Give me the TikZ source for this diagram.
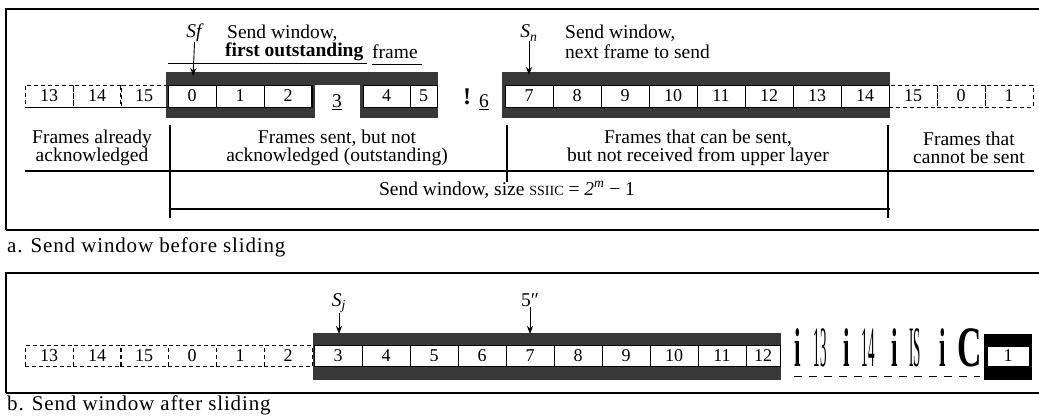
\documentclass[tikz,border=0pt]{standalone}
\usepackage{fontspec}
\setmainfont{Liberation Serif}
\usepackage{tikz}
\usetikzlibrary{arrows.meta}
\tikzset{
  frm/.style={draw,line width=0.8pt,fill=white,minimum width=48pt,minimum height=22pt,inner sep=0pt,font=\fontsize{18}{18}\selectfont},
  frmd/.style={frm,fill=none,dash pattern=on 4pt off 3pt},
  band/.style={fill=black!78},
  ptr/.style={line width=0.9pt,-{Stealth[length=8pt,width=6pt]}},
  rule/.style={line width=1.1pt},
  lbl/.style={font=\fontsize{19.5}{18}\selectfont,align=center,inner sep=0pt},
  capline/.style={font=\fontsize{21}{21}\selectfont\addfontfeature{LetterSpace=4},inner sep=0pt,anchor=west},
  ocr/.style={font=\fontsize{26}{26}\selectfont,inner sep=0pt}
}

\begin{document}
\begin{tikzpicture}[x=1pt,y=-1pt]
\useasboundingbox (0,0) rectangle (1039,417);
% a. before sliding
\draw[rule] (6,230) -- (6,9) -- (1039,9); \draw[rule] (6,230) -- (1039,230);
\fill[band] (166,72) rectangle (438,85); \fill[band] (166,85) rectangle (315,118);
\fill[band] (360,85) rectangle (438,118); \fill[band] (502,72) rectangle (890,118);
\node[frmd] (al13) at (49,96) {13}; \node[frmd] (al14) at (97,96) {14}; \node[frmd] (al15) at (144,96) {15};
\draw[thin] (al13.south west) -- (al15.south east);
\node[frm] (a0) at (192,96) {0}; \node[frm] (a1) at (240,96) {1}; \node[frm] (a2) at (288,96) {2};
\draw[line width=2pt] (a2.north east) -- (a2.south east);
\node[lbl] (a3) at (337,102) {\underline{3}};
\node[frm,minimum width=47pt] (a4) at (386.5,96) {4}; \node[frm,minimum width=27pt] (a5) at (423.5,96) {5};
\node[lbl,font=\fontsize{24}{24}\selectfont\bfseries] (bang) at (467,97) {!};
\node[lbl] (a6) at (484,102) {\underline{6}};
\node[frm] (a7) at (529,96) {7}; \node[frm] (a8) at (577,96) {8}; \node[frm] (a9) at (625,96) {9};
\node[frm] (a10) at (673,96) {10}; \node[frm] (a11) at (721,96) {11}; \node[frm] (a12) at (769,96) {12};
\node[frm] (a13) at (817,96) {13}; \node[frm] (a14) at (865,96) {14};
\node[frmd] (ar15) at (913,96) {15}; \node[frmd] (ar0) at (961,96) {0}; \node[frmd] (ar1) at (1009,96) {1};
% pointers, window labels
\node[lbl] (sf) at (195,33) {\textit{Sf}}; \coordinate (sfend) at (193,76);
\draw[ptr] (sf) -- (sfend);
\node[lbl,anchor=west] (swl) at (227,33) {Send window,};
\node[lbl,anchor=west] (fo) at (225,52) {\textbf{first outstanding}};
\node[lbl,anchor=west] (fr) at (372,52) {frame};
\draw[thin] (a0.west |- 0,63) -- (367,63); \draw[thin] (372,64) -- (422,64);
\node[lbl] (sn) at (529,33) {\textit{S\textsubscript{n}}}; \coordinate (snend) at (529,75);
\draw[ptr] (sn) -- (snend);
\node[lbl,anchor=west] (swr) at (565,33) {Send window,};
\node[lbl,anchor=west] (nf) at (565,52) {next frame to send};
% regions
\draw[rule] (170,125) -- (170,218); \draw[rule] (507,125) -- (507,182); \draw[rule] (888,125) -- (888,218);
\draw[rule] (25,171) -- (1034,171); \draw[rule] (170,209) -- (890,209);
\node[lbl] (ack) at (92,148) {Frames already\\acknowledged};
\node[lbl] (outs) at (337,148) {Frames sent, but not\\acknowledged (outstanding)};
\node[lbl] (cansend) at (698,148) {Frames that can be sent,\\but not received from upper layer};
\node[lbl] (cannot) at (969,148) {Frames that\\cannot be sent};
\node[lbl] (sws) at (507,190) {Send window, size {\fontsize{14}{14}\selectfont SSIIC} = \textit{2\textsuperscript{m}} − 1};
\node[capline] (capa) at (7,247) {a. Send window before sliding};
% b. after sliding
\draw[rule] (6,393) -- (6,273) -- (1039,273); \draw[rule] (6,393) -- (1039,393);
\fill[band] (313,333) rectangle (781,380);
\node[frmd,minimum height=21pt] (bl13) at (49,356) {13}; \node[frmd,minimum height=21pt] (bl14) at (97,356) {14};
\node[frmd,minimum height=21pt] (bl15) at (144,356) {15}; \node[frmd,minimum height=21pt] (bl0) at (192,356) {0};
\node[frmd,minimum height=21pt] (bl1) at (240,356) {1}; \node[frmd,minimum height=21pt] (bl2) at (288,356) {2};
\node[frm,minimum height=21pt] (b3) at (338,356) {3}; \node[frm,minimum height=21pt] (b4) at (386,356) {4};
\node[frm,minimum height=21pt] (b5) at (434,356) {5}; \node[frm,minimum height=21pt] (b6) at (482,356) {6};
\node[frm,minimum height=21pt] (b7) at (530,356) {7}; \node[frm,minimum height=21pt] (b8) at (578,356) {8};
\node[frm,minimum height=21pt] (b9) at (626,356) {9}; \node[frm,minimum height=21pt] (b10) at (674,356) {10};
\node[frm,minimum height=21pt] (b11) at (722,356) {11}; \node[frm,minimum height=21pt,minimum width=34pt] (b12) at (763,356) {12};
\node[ocr] (g1) at (798,348) {\scalebox{0.9}[2.1]{\bfseries i}}; \node[ocr] (g2) at (820,348) {\scalebox{0.5}[2.2]{13}};
\node[ocr] (g3) at (847,348) {\scalebox{0.9}[2.1]{\bfseries i}}; \node[ocr] (g4) at (868,348) {\scalebox{0.5}[2.2]{14}};
\node[ocr] (g5) at (895,348) {\scalebox{0.9}[2.1]{\bfseries i}}; \node[ocr] (g6) at (915,348) {\scalebox{0.5}[2.2]{IS}};
\node[ocr] (g7) at (943,348) {\scalebox{0.9}[2.1]{\bfseries i}}; \node[ocr] (g8) at (970,348) {\scalebox{1.3}[2.2]{\bfseries C}};
\draw[thin,dash pattern=on 8pt off 7pt] (794,376) -- (980,376);
\fill (984,334) rectangle (1032,380);
\node[frm,minimum width=42pt,minimum height=20pt] (b1) at (1008,356) {1};
\node[lbl] (sj) at (339,303) {\textit{S\textsubscript{j}}}; \coordinate (sjend) at (339,334);
\draw[ptr] (sj) -- (sjend);
\node[lbl] (s5) at (530,300) {5″}; \coordinate (s5end) at (530,334);
\draw[ptr] (s5) -- (s5end);
\node[capline] (capb) at (7,405) {b. Send window after sliding};
\end{tikzpicture}
\end{document}
